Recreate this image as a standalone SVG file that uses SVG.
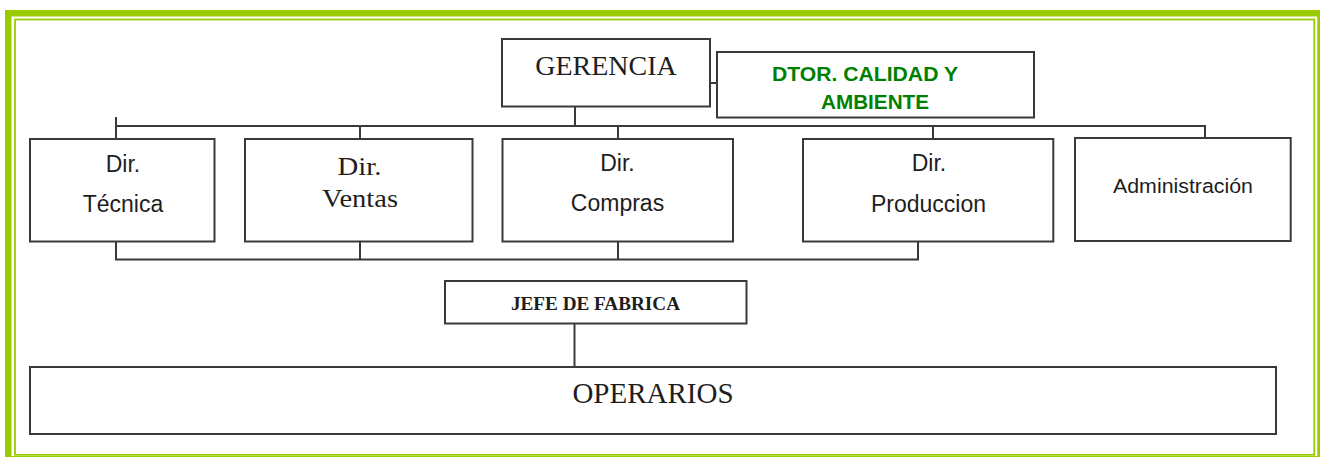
<svg xmlns="http://www.w3.org/2000/svg" width="1320" height="457" viewBox="0 0 1320 457">
  <style>
    .frame-thick { fill: none; stroke: #99cc00; stroke-width: 6.5; }
    .frame-thin { fill: none; stroke: #99cc00; stroke-width: 1.8; }
    .box { fill: #ffffff; stroke: #3a3a3a; stroke-width: 2; }
    .conn { fill: none; stroke: #3a3a3a; stroke-width: 2; }
    .sans { font-family: "Liberation Sans", Arial, sans-serif; fill: #1e1e1e; text-anchor: middle; }
    .serif { font-family: "Liberation Serif", "Times New Roman", serif; fill: #1e1e1e; text-anchor: middle; }
    .green { font-family: "Liberation Sans", Arial, sans-serif; font-weight: bold; fill: #008000; text-anchor: middle; }
  </style>
  <rect x="0" y="0" width="1320" height="457" fill="#ffffff"/>
  <g id="frame">
    <rect class="frame-thick" x="8.25" y="13.25" width="1312.25" height="446"/>
    <rect class="frame-thin" x="15" y="19.5" width="1299.3" height="435.3"/>
  </g>
  <g id="connectors">
    <line class="conn" x1="575" y1="106" x2="575" y2="126"/>
    <line class="conn" x1="710" y1="83" x2="717" y2="83"/>
    <polyline class="conn" points="116,117 116,126 1205,126 1205,138"/>
    <line class="conn" x1="116" y1="126" x2="116" y2="139"/>
    <line class="conn" x1="360" y1="126" x2="360" y2="139"/>
    <line class="conn" x1="618" y1="126" x2="618" y2="139"/>
    <line class="conn" x1="933" y1="126" x2="933" y2="139"/>
    <polyline class="conn" points="116,241 116,259.5 918,259.5 918,241"/>
    <line class="conn" x1="360" y1="241" x2="360" y2="259.5"/>
    <line class="conn" x1="618" y1="241" x2="618" y2="259.5"/>
    <line class="conn" x1="574.5" y1="323" x2="574.5" y2="367"/>
  </g>
  <g id="gerencia">
    <rect class="box" x="502" y="39" width="208" height="67.5"/>
    <text class="serif" x="606" y="75" font-size="28">GERENCIA</text>
  </g>
  <g id="dtor-calidad">
    <rect class="box" x="717" y="52" width="317" height="65.5"/>
    <text class="green" x="865" y="81" font-size="20" textLength="186" lengthAdjust="spacingAndGlyphs">DTOR. CALIDAD Y</text>
    <text class="green" x="875" y="109.3" font-size="20" textLength="108" lengthAdjust="spacingAndGlyphs">AMBIENTE</text>
  </g>
  <g id="dir-tecnica">
    <rect class="box" x="30" y="139" width="184.5" height="102.5"/>
    <text class="sans" x="123" y="171.5" font-size="23">Dir.</text>
    <text class="sans" x="123" y="211.5" font-size="23">Técnica</text>
  </g>
  <g id="dir-ventas">
    <rect class="box" x="245" y="139" width="227.5" height="102.5"/>
    <text class="serif" x="359.5" y="175" font-size="25" textLength="44" lengthAdjust="spacingAndGlyphs">Dir.</text>
    <text class="serif" x="360" y="206.7" font-size="25" textLength="76" lengthAdjust="spacingAndGlyphs">Ventas</text>
  </g>
  <g id="dir-compras">
    <rect class="box" x="502.5" y="139" width="230.5" height="102.5"/>
    <text class="sans" x="617.5" y="171" font-size="23">Dir.</text>
    <text class="sans" x="617.5" y="211.2" font-size="23">Compras</text>
  </g>
  <g id="dir-produccion">
    <rect class="box" x="803" y="139" width="250.3" height="102.5"/>
    <text class="sans" x="929" y="170.5" font-size="23">Dir.</text>
    <text class="sans" x="928.5" y="211.5" font-size="23">Produccion</text>
  </g>
  <g id="administracion">
    <rect class="box" x="1075" y="138" width="215.7" height="103"/>
    <text class="sans" x="1183" y="192.7" font-size="20.5" textLength="140" lengthAdjust="spacingAndGlyphs">Administración</text>
  </g>
  <g id="jefe-fabrica">
    <rect class="box" x="445" y="281" width="301.5" height="42.5"/>
    <text class="serif" x="595.5" y="310" font-size="18" font-weight="bold" textLength="169" lengthAdjust="spacingAndGlyphs">JEFE DE FABRICA</text>
  </g>
  <g id="operarios">
    <rect class="box" x="30" y="367" width="1246" height="67"/>
    <text class="serif" x="653" y="403" font-size="29">OPERARIOS</text>
  </g>
</svg>
